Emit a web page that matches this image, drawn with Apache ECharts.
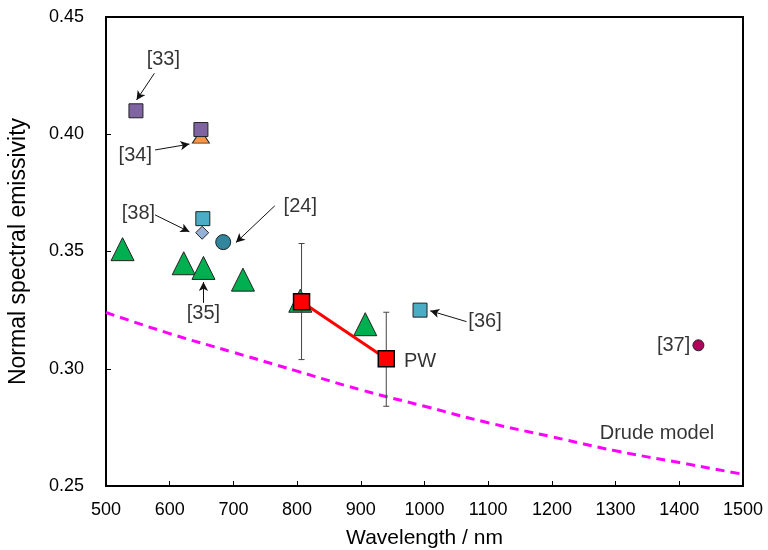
<!DOCTYPE html>
<html>
<head>
<meta charset="utf-8">
<script src="https://cdn.jsdelivr.net/npm/echarts@6/dist/echarts.min.js"></script>
<style>html,body{margin:0;padding:0;background:#fff}#c{width:768px;height:550px}</style>
</head>
<body>
<div id="c"></div>
<script>
// ---- data ----
var xTicks = [500, 1500, 100];
var yTicks = [0.25, 0.45, 0.05];
var ref33 = [[547, 0.410]];
var ref34sq = [[649, 0.402]];
var ref34tri = [[649, 0.399]];
var ref38sq = [[652, 0.364]];
var ref38dia = [[651, 0.358]];
var ref24 = [[684, 0.354]];
var ref35tri = [[526, 0.351], [622, 0.345], [653, 0.343], [715, 0.338], [805, 0.329], [907, 0.319]];
var ref36 = [[993, 0.325]];
var ref37 = [[1430, 0.310]];
var pw = [[807, 0.3286], [940, 0.3043]];
var pwErr = [[807, 0.3039, 0.3534], [940, 0.2840, 0.3241]];
var drude = [[500, 0.324], [600, 0.315], [700, 0.307], [800, 0.299], [900, 0.291], [1000, 0.284], [1100, 0.277], [1200, 0.271], [1300, 0.265], [1400, 0.260], [1500, 0.255]];
// annotation texts and anchor positions (data coords)
var annText = ['[33]', '[34]', '[38]', '[24]', '[35]', '[36]', '[37]', 'PW', 'Drude model'];
var annPos = [[590, 0.4317], [546, 0.391], [551, 0.366], [805, 0.369], [653, 0.3236], [1095, 0.320], [1391, 0.310], [993, 0.303], [1365, 0.2725]];
var arrows = [
  [[576, 0.426], [548, 0.4146]],
  [[577, 0.3933], [631, 0.3958]],
  [[577, 0.3656], [631, 0.3584]],
  [[765, 0.3695], [704, 0.3538]],
  [[653, 0.3281], [653, 0.3370]],
  [[1066, 0.3201], [1009, 0.3247]]
];

var chart = echarts.init(document.getElementById('c'));
var FONT = 'Liberation Sans, Arial, sans-serif';
function sc(name, data, symbol, size, color, z) {
  return { type: 'scatter', name: name, data: data, symbol: symbol, symbolSize: size, z: z || 3,
    itemStyle: { color: color, borderColor: '#222', borderWidth: 1, opacity: 1 } };
}
var annData = annText.map(function (t, i) { return { value: annPos[i], name: t }; });
chart.setOption({
  animation: false,
  grid: { left: 106, right: 25, top: 17, bottom: 64, outerBoundsMode: 'none', containLabel: false,
    show: true, borderColor: '#000', borderWidth: 2, backgroundColor: 'transparent' },
  xAxis: {
    type: 'value', min: xTicks[0], max: xTicks[1], interval: xTicks[2],
    name: 'Wavelength / nm', nameLocation: 'middle', nameGap: 42,
    nameTextStyle: { fontSize: 21, color: '#000', fontFamily: FONT },
    axisLine: { lineStyle: { color: '#000', width: 2 } },
    axisTick: { inside: true, length: 5, lineStyle: { color: '#000', width: 1 } },
    axisLabel: { fontSize: 18, color: '#000', fontFamily: FONT, margin: 15, formatter: function (v) { return String(v); } },
    splitLine: { show: false }
  },
  yAxis: {
    type: 'value', min: yTicks[0], max: yTicks[1], interval: yTicks[2],
    name: 'Normal spectral emissivity', nameLocation: 'middle', nameGap: 76,
    nameTextStyle: { fontSize: 23, color: '#000', fontFamily: FONT },
    axisLine: { lineStyle: { color: '#000', width: 2 } },
    axisTick: { inside: true, length: 5, lineStyle: { color: '#000', width: 1 } },
    axisLabel: { fontSize: 18, color: '#000', fontFamily: FONT, margin: 22, formatter: function (v) { return v.toFixed(2); } },
    splitLine: { show: false }
  },
  series: [
    { type: 'line', name: 'Drude', data: drude, smooth: true, symbol: 'none', z: 2,
      lineStyle: { color: '#FF00FF', width: 3, type: [9, 6] } },
    sc('34tri', ref34tri, 'triangle', [17, 13], '#F79646', 3),
    sc('33', ref33, 'rect', 14, '#8064A2', 4),
    sc('34', ref34sq, 'rect', 14, '#8064A2', 4),
    sc('38dia', ref38dia, 'diamond', [13, 13], '#95B3D7', 3),
    sc('38', ref38sq, 'rect', 14, '#4BACC6', 4),
    sc('24', ref24, 'circle', 15, '#31859C', 4),
    sc('35', ref35tri, 'triangle', 23, '#00B050', 3),
    sc('36', ref36, 'rect', 14, '#4BACC6', 4),
    sc('37', ref37, 'circle', 11, '#B0005A', 4),
    { type: 'custom', name: 'err', data: pwErr, z: 5,
      renderItem: function (params, api) {
        var top = api.coord([api.value(0), api.value(2)]);
        var bot = api.coord([api.value(0), api.value(1)]);
        var w = 3;
        var st = { stroke: '#444', lineWidth: 1 };
        return { type: 'group', children: [
          { type: 'line', shape: { x1: top[0], y1: top[1], x2: bot[0], y2: bot[1] }, style: st },
          { type: 'line', shape: { x1: top[0] - w, y1: top[1], x2: top[0] + w, y2: top[1] }, style: st },
          { type: 'line', shape: { x1: bot[0] - w, y1: bot[1], x2: bot[0] + w, y2: bot[1] }, style: st }
        ] };
      } },
    { type: 'line', name: 'PW', data: pw, z: 6, symbol: 'rect', symbolSize: 16,
      lineStyle: { color: '#FF0000', width: 3 },
      itemStyle: { color: '#FF0000', borderColor: '#000', borderWidth: 1.5 } },
    { type: 'scatter', name: 'ann', data: annData, symbolSize: 0, z: 7, silent: true,
      label: { show: true, position: 'inside', formatter: '{b}', fontSize: 20, color: '#000', fontFamily: FONT },
      markLine: { silent: true, symbol: ['none', 'arrow'], symbolSize: [7, 9], precision: 4,
        lineStyle: { color: '#111', width: 1, type: 'solid' }, label: { show: false },
        data: arrows.map(function (a) { return [{ coord: a[0] }, { coord: a[1] }]; }) } }
  ]
});
</script>
</body>
</html>
